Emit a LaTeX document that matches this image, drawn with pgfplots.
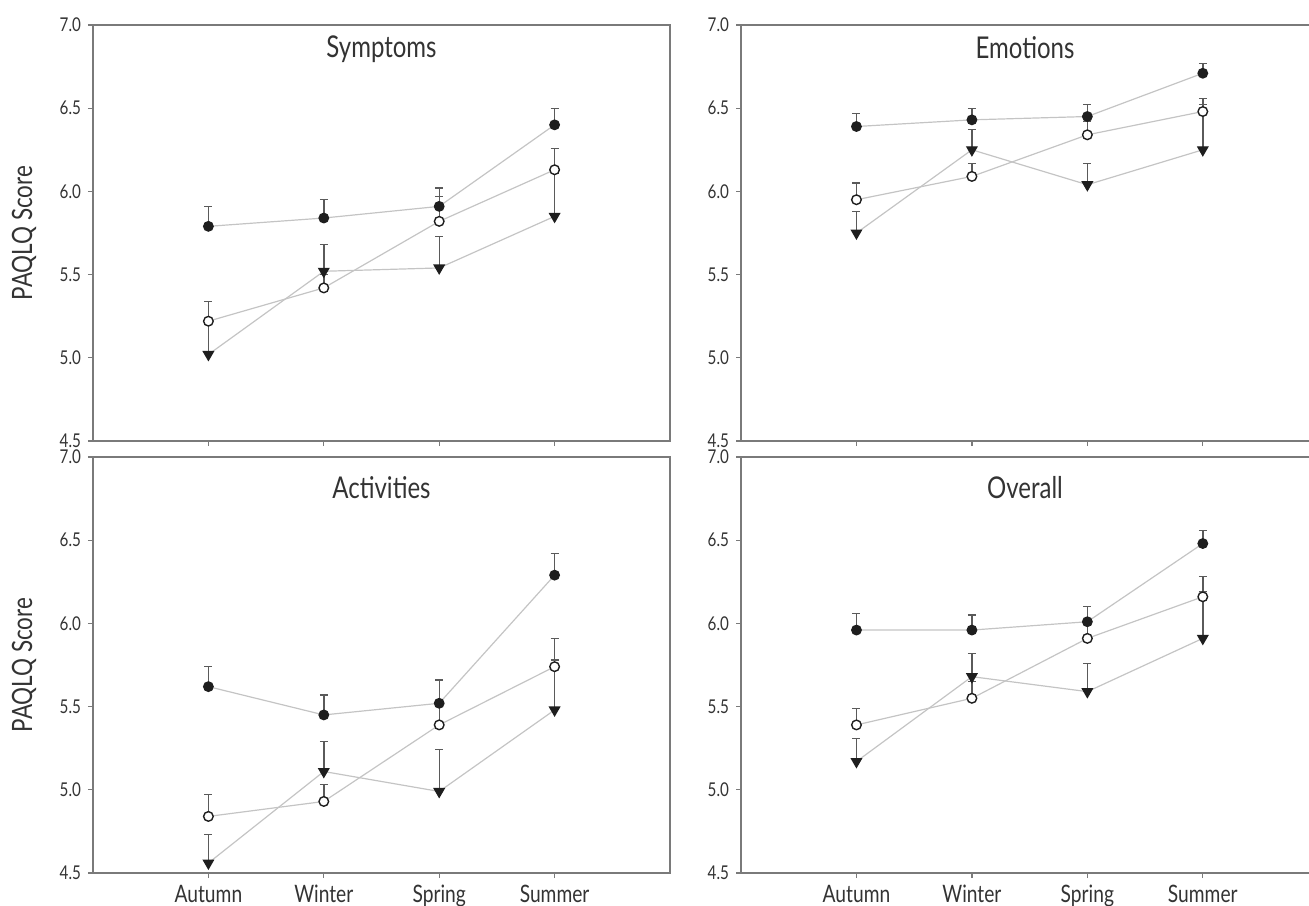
\documentclass[border=0pt]{standalone}
\usepackage{fontspec}
\setmainfont{Lato}[FakeStretch=0.8]
\usepackage{pgfplots}
\pgfplotsset{compat=1.18}
\definecolor{axcol}{HTML}{7A7A7A}
\definecolor{txtcol}{HTML}{333333}
\definecolor{lncol}{HTML}{C4C4C4}
\definecolor{errcol}{HTML}{5A5A5A}
\definecolor{mkcol}{HTML}{1E1E1E}
\pgfplotsset{
  panel/.style={
    scale only axis, anchor=south west,
    xmin=0, ymin=4.5, ymax=7.0, height=208pt,
    axis line style={axcol, line width=0.75pt},
    ytick={4.5,5.0,5.5,6.0,6.5,7.0},
    yticklabel style={/pgf/number format/fixed, /pgf/number format/fixed zerofill, /pgf/number format/precision=1, /pgf/number format/assume math mode=true},
    xtick={1,2,3,4},
    tick align=outside, major tick length=2.5pt,
    tick style={axcol, line width=0.6pt},
    xtick pos=bottom, ytick pos=left,
    yticklabel style={font=\fontsize{9.5}{11}\selectfont, text=txtcol},
    xticklabel style={font=\fontsize{12}{14}\selectfont, text=txtcol},
    title style={font=\fontsize{15}{17}\selectfont, text=txtcol, at={(axis description cs:0.5,1)}, anchor=north, yshift=-8pt},
    clip=false,
  },
  lowtitle/.style={title style={yshift=-4pt}},
  leftlab/.style={ylabel={PAQLQ Score}, ylabel style={at={(axis description cs:-0.1196,0.5)}, anchor=center, font=\fontsize{14}{16}\selectfont, text=txtcol}},
  tri/.style={lncol, line width=0.6pt, mark=triangle*, mark size=2.9pt,
    mark options={rotate=180, fill=mkcol, draw=mkcol, solid},
    error bars/.cd, y dir=plus, y explicit,
    error bar style={errcol, line width=0.7pt},
    error mark options={rotate=90, mark size=2pt, errcol, line width=0.6pt}},
  opn/.style={lncol, line width=0.6pt, mark=*, mark size=2.4pt,
    mark options={fill=white, draw=mkcol, line width=0.7pt, solid},
    error bars/.cd, y dir=plus, y explicit,
    error bar style={errcol, line width=0.7pt},
    error mark options={rotate=90, mark size=2pt, errcol, line width=0.6pt}},
  fil/.style={lncol, line width=0.6pt, mark=*, mark size=2.4pt,
    mark options={fill=mkcol, draw=mkcol, solid},
    error bars/.cd, y dir=plus, y explicit,
    error bar style={errcol, line width=0.7pt},
    error mark options={rotate=90, mark size=2pt, errcol, line width=0.6pt}},
}
\begin{document}
\begin{tikzpicture}[x=1pt,y=1pt]
\useasboundingbox (0,0) rectangle (654.5,452.5);
% Symptoms
\begin{axis}[panel, leftlab, at={(46.5pt,232pt)}, width=288.5pt, xmax=5, xticklabels={}, title={Symptoms}]
\addplot[tri] coordinates {(1,5.02) +- (0,0.18) (2,5.52) +- (0,0.16) (3,5.54) +- (0,0.19) (4,5.85) +- (0,0.26)};
\addplot[opn] coordinates {(1,5.22) +- (0,0.12) (2,5.42) +- (0,0.08) (3,5.82) +- (0,0.15) (4,6.13) +- (0,0.13)};
\addplot[fil] coordinates {(1,5.79) +- (0,0.12) (2,5.84) +- (0,0.11) (3,5.91) +- (0,0.11) (4,6.40) +- (0,0.10)};
\end{axis}
% Emotions
\begin{axis}[panel, at={(370.5pt,232pt)}, width=284pt, xmax=4.92, axis x line*=box, axis y line*=left, xtick pos=bottom, ytick pos=left, xticklabels={}, title={Emotions}]
\addplot[tri] coordinates {(1,5.75) +- (0,0.13) (2,6.25) +- (0,0.12) (3,6.04) +- (0,0.13) (4,6.25) +- (0,0.27)};
\addplot[opn] coordinates {(1,5.95) +- (0,0.10) (2,6.09) +- (0,0.08) (3,6.34) +- (0,0.08) (4,6.48) +- (0,0.08)};
\addplot[fil] coordinates {(1,6.39) +- (0,0.08) (2,6.43) +- (0,0.07) (3,6.45) +- (0,0.07) (4,6.71) +- (0,0.06)};
\end{axis}
% Activities
\begin{axis}[panel, lowtitle, leftlab, at={(46.5pt,16pt)}, width=288.5pt, xmax=5, xticklabels={Autumn,Winter,Spring,Summer}, title={Activities}]
\addplot[tri] coordinates {(1,4.56) +- (0,0.17) (2,5.11) +- (0,0.18) (3,4.99) +- (0,0.25) (4,5.48) +- (0,0.30)};
\addplot[opn] coordinates {(1,4.84) +- (0,0.13) (2,4.93) +- (0,0.10) (3,5.39) +- (0,0.12) (4,5.74) +- (0,0.17)};
\addplot[fil] coordinates {(1,5.62) +- (0,0.12) (2,5.45) +- (0,0.12) (3,5.52) +- (0,0.14) (4,6.29) +- (0,0.13)};
\end{axis}
% Overall
\begin{axis}[panel, lowtitle, at={(370.5pt,16pt)}, width=284pt, xmax=4.92, axis x line*=box, axis y line*=left, xtick pos=bottom, ytick pos=left, xticklabels={Autumn,Winter,Spring,Summer}, title={Overall}]
\addplot[tri] coordinates {(1,5.17) +- (0,0.14) (2,5.68) +- (0,0.14) (3,5.59) +- (0,0.17) (4,5.91) +- (0,0.28)};
\addplot[opn] coordinates {(1,5.39) +- (0,0.10) (2,5.55) +- (0,0.10) (3,5.91) +- (0,0.10) (4,6.16) +- (0,0.12)};
\addplot[fil] coordinates {(1,5.96) +- (0,0.10) (2,5.96) +- (0,0.09) (3,6.01) +- (0,0.09) (4,6.48) +- (0,0.08)};
\end{axis}
\end{tikzpicture}
\end{document}
